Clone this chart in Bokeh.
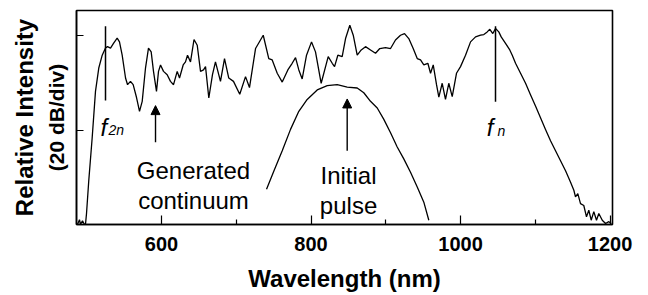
from bokeh.plotting import figure
from bokeh.models import Range1d, FixedTicker, Label, Arrow, NormalHead, LinearAxis
from bokeh.embed import file_html
from bokeh.resources import INLINE

# Generated continuum (wavelength nm, relative intensity dB)
cont_wl = [487.6, 490.3, 491.6, 494.3, 497.0, 498.3, 499.7, 502.7, 507.3, 511.7, 516.1, 520.7, 525.1, 527.8,
           531.8, 535.8, 540.7, 543.8, 547.4, 551.9, 554.6, 558.5, 562.1, 566.6, 570.6, 574.2, 578.6,
           582.6, 586.2, 589.3, 593.3, 596.0, 598.7, 602.7, 607.6, 612.0, 616.1, 621.0, 624.1, 629.0,
           632.1, 634.8, 638.8, 643.5, 647.8, 652.2, 656.2, 658.9, 663.3, 668.2, 672.2, 678.9, 684.3,
           690.0, 696.3, 704.7, 712.4, 717.7, 725.8, 736.1, 743.5, 748.1, 754.8, 761.5, 769.0, 774.8,
           779.3, 783.7, 788.2, 794.0, 800.7, 806.0, 813.6, 823.0, 828.4, 831.5, 835.9, 841.7, 846.2,
           851.9, 856.5, 861.8, 867.2, 872.9, 879.6, 886.3, 892.0, 899.7, 906.4, 913.0, 919.7, 925.1,
           930.8, 936.7, 942.1, 946.5, 950.9, 956.3, 959.9, 963.5, 967.9, 971.0, 975.5, 979.9, 984.3,
           988.9, 994.6, 1000.0, 1006.7, 1013.4, 1020.1, 1026.8, 1031.2, 1035.7, 1039.2, 1043.2, 1046.8,
           1051.2, 1054.4, 1060.2, 1065.9, 1069.2, 1073.6, 1080.3, 1087.0, 1093.6, 1100.3, 1107.0,
           1113.7, 1120.4, 1127.1, 1133.8, 1140.5, 1147.2, 1151.6, 1153.8, 1156.9, 1160.5, 1164.9,
           1168.5, 1171.6, 1174.8, 1178.3, 1181.9, 1185.0, 1189.6, 1194.0, 1198.4, 1201.6]
cont_db = [-39.8, -38.8, -39.8, -39.0, -39.8, -39.8, -37.5, -30.6, -21.5, -11.8, -6.9, -4.2, -2.7, -2.4,
           -2.7, -1.7, -0.6, -1.4, -4.2, -9.0, -10.4, -9.7, -10.4, -13.1, -16.0, -13.9, -6.9,
           -2.7, -3.5, -7.6, -11.8, -7.6, -6.25, -7.6, -8.3, -9.7, -10.4, -7.6, -9.0, -6.25,
           -5.6, -4.2, -5.6, -0.9, -2.1, -7.6, -7.3, -6.6, -13.2, -8.3, -5.6, -9.7, -4.9,
           -9.0, -9.7, -12.4, -8.7, -11.0, -2.8, 0.0, -4.9, -5.2, -8.0, -9.85, -7.3, -5.9,
           -4.7, -7.3, -9.2, -4.2, -1.4, -3.5, -10.1, -4.5, -5.9, -6.6, -4.2, -4.5, -0.7,
           2.1, 0.0, -4.2, -3.1, -2.4, -3.1, -3.8, -2.8, -2.6, -2.8, -1.0, 0.0, 0.35,
           -0.7, -2.8, -4.9, -5.2, -6.25, -5.9, -8.0, -6.25, -10.4, -13.0, -10.1, -13.5, -10.1,
           -12.9, -8.0, -6.6, -4.2, -1.4, -0.35, 0.0, 0.15, 0.7, 1.25, 0.35, 1.4,
           0.7, -0.35, -1.7, -3.1, -4.2, -5.9, -8.0, -10.1, -12.5, -14.9, -17.35,
           -19.8, -22.2, -24.3, -26.4, -28.5, -30.9, -32.6, -34.0, -33.3, -35.4, -35.8,
           -38.2, -36.8, -38.9, -37.1, -38.9, -37.5, -38.9, -39.6, -39.2, -39.6]

# Initial pulse
pulse_wl = [740.5, 750.2, 761.5, 772.6, 783.7, 794.9, 808.3, 821.7, 835.0, 848.4, 861.8, 870.6, 879.6,
            888.6, 897.4, 906.4, 915.3, 924.1, 933.1, 942.1, 950.9, 957.6]
pulse_db = [-32.4, -28.6, -24.3, -19.8, -16.0, -13.5, -11.5, -10.6, -10.4, -10.9, -11.1, -12.1, -13.9,
            -15.3, -17.7, -20.5, -23.5, -26.0, -28.8, -31.9, -35.1, -38.9]

# Marker lines f_2n and f_n
mark_wl = [525.1, 1046.8]
mark_top = [1.9, 1.9]
mark_bot = [-13.75, -14.0]

x_major = [600, 800, 1000, 1200]
x_minor = [700, 900, 1100]
y_ticks = [-20, 0]

FONT = "Liberation Sans"

p = figure(width=640, height=294, output_backend="svg", toolbar_location=None,
           x_range=Range1d(486.3, 1203.3), y_range=Range1d(-39.8, 5.2),
           min_border_left=76, min_border_right=28, min_border_top=10, min_border_bottom=68)
p.xgrid.visible = False
p.ygrid.visible = False
p.outline_line_color = "black"
p.outline_line_width = 1.6
p.background_fill_color = "white"
p.border_fill_color = "white"

xa = p.xaxis[0]
xa.ticker = FixedTicker(ticks=x_major, minor_ticks=x_minor)
xa.axis_line_width = 1.5
xa.axis_line_color = "black"
xa.major_tick_line_color = "black"
xa.minor_tick_line_color = "black"
xa.major_tick_in = 9
xa.major_tick_out = 0
xa.minor_tick_in = 5
xa.minor_tick_out = 0
xa.major_tick_line_width = 1.2
xa.minor_tick_line_width = 1.2
xa.major_label_text_font = FONT
xa.major_label_text_font_style = "bold"
xa.major_label_text_font_size = "20px"
xa.major_label_text_color = "black"
xa.major_label_standoff = 12
xa.axis_label = "Wavelength (nm)"
xa.axis_label_text_font = FONT
xa.axis_label_text_font_style = "bold"
xa.axis_label_text_font_size = "24px"
xa.axis_label_text_color = "black"
xa.axis_label_standoff = 11

ya = p.yaxis[0]
ya.ticker = FixedTicker(ticks=y_ticks)
ya.axis_line_width = 1.5
ya.axis_line_color = "black"
ya.major_tick_line_color = "black"
ya.major_tick_in = 7
ya.major_tick_out = 0
ya.minor_tick_line_color = None
ya.major_tick_line_width = 1.2
ya.major_label_text_color = None
ya.major_label_text_font_size = "1px"
ya.major_label_standoff = 0
ya.axis_label = "(20 dB/div)"
ya.axis_label_text_font = FONT
ya.axis_label_text_font_style = "bold"
ya.axis_label_text_font_size = "21px"
ya.axis_label_text_color = "black"
ya.axis_label_standoff = 9

ya2 = LinearAxis(ticker=FixedTicker(ticks=[]), axis_line_color=None,
                 major_tick_line_color=None, minor_tick_line_color=None,
                 major_label_text_color=None, major_label_text_font_size="1px",
                 major_label_standoff=0,
                 axis_label="Relative Intensity", axis_label_text_font=FONT,
                 axis_label_text_font_style="bold", axis_label_text_font_size="24px",
                 axis_label_text_color="black", axis_label_standoff=4)
p.add_layout(ya2, "left")

p.line(cont_wl, cont_db, line_color="black", line_width=1.3)
p.line(pulse_wl, pulse_db, line_color="black", line_width=1.3)
p.segment(x0=mark_wl, y0=mark_top, x1=mark_wl, y1=mark_bot, line_color="black", line_width=1.5)

def add_label(x, y, text, size, style="normal", align="left"):
    p.add_layout(Label(x=x, y=y, text=text, text_font=FONT, text_font_size=size,
                       text_font_style=style, text_align=align, text_baseline="alphabetic",
                       text_color="black"))

# arrows
for xs, ys, ye in [(592.0, -22.5, -14.8), (848.4, -24.3, -13.4)]:
    p.add_layout(Arrow(end=NormalHead(size=9, fill_color="black", line_color="black"),
                       x_start=xs, y_start=ys, x_end=xs, y_end=ye,
                       line_color="black", line_width=1.4))

add_label(642.8, -28.5, "Generated", "24px", align="center")
add_label(642.8, -34.7, "continuum", "24px", align="center")
add_label(850.2, -29.4, "Initial", "24px", align="center")
add_label(850.2, -35.8, "pulse", "24px", align="center")

add_label(518.4, -19.4, "f", "24px", style="italic")
add_label(529.1, -20.0, "2n", "14px", style="italic")
add_label(1035.1, -19.4, "f", "24px", style="italic")
add_label(1049.5, -20.1, "n", "14px", style="italic")

open("out.html", "w").write(file_html(p, INLINE))
